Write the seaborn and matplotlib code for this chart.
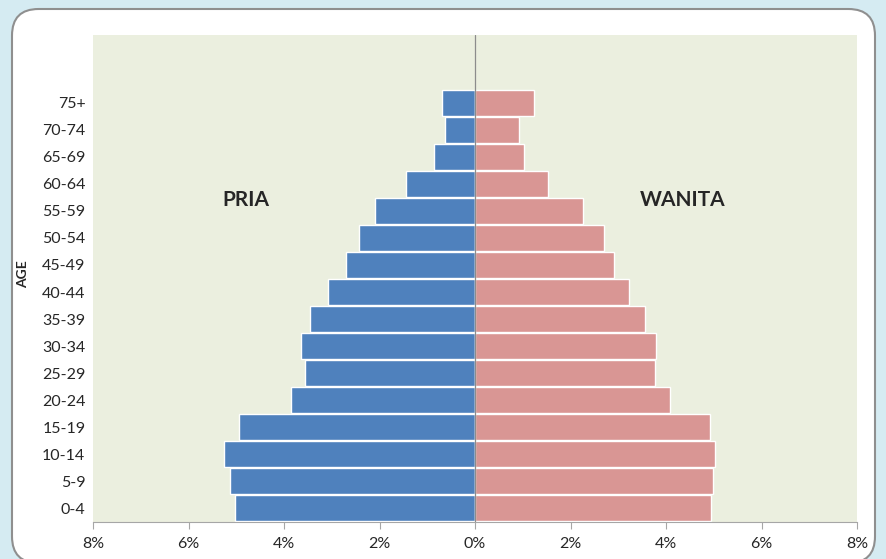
import numpy as np
import pandas as pd
import matplotlib.pyplot as plt
import seaborn as sns
from matplotlib.patches import FancyBboxPatch

# Data (percent of population), oldest group first
umur = ['75+', '70-74', '65-69', '60-64', '55-59', '50-54', '45-49', '40-44',
        '35-39', '30-34', '25-29', '20-24', '15-19', '10-14', '5-9', '0-4']
pria = [0.69, 0.62, 0.86, 1.45, 2.09, 2.43, 2.70, 3.07,
        3.46, 3.64, 3.55, 3.85, 4.94, 5.26, 5.13, 5.03]
wanita = [1.23, 0.92, 1.03, 1.53, 2.27, 2.70, 2.91, 3.23,
          3.56, 3.79, 3.78, 4.08, 4.92, 5.02, 4.98, 4.94]
xticks = [-8, -6, -4, -2, 0, 2, 4, 6, 8]

df = pd.DataFrame({'Age': umur, 'Pria': [-v for v in pria], 'Wanita': wanita})

sns.set_style('white')
plt.rcParams['font.family'] = ['Lato', 'DejaVu Sans']

fig = plt.figure(figsize=(8.86, 5.59), dpi=100, facecolor='#d5ebf2')

# white rounded panel behind the chart
panel = FancyBboxPatch((12 / 886, -4 / 559), 863 / 886, 554 / 559,
                       boxstyle='round,pad=0,rounding_size=0.03',
                       transform=fig.transFigure, facecolor='white',
                       edgecolor='#8f8f8f', linewidth=1.5, zorder=-10,
                       mutation_aspect=886 / 559)
fig.patches.append(panel)

ax = fig.add_axes([93 / 886, 37 / 559, 764 / 886, 487 / 559])
ax.set_zorder(1)
ax.set_facecolor('#ebefdf')

sns.barplot(data=df, x='Pria', y='Age', order=umur, orient='h', color='#4f81bd',
            edgecolor='white', linewidth=1, width=0.96, saturation=1, ax=ax)
sns.barplot(data=df, x='Wanita', y='Age', order=umur, orient='h', color='#d99694',
            edgecolor='white', linewidth=1, width=0.96, saturation=1, ax=ax)

ax.axvline(0, color='#8c8c8c', linewidth=0.9, zorder=5)

ax.set_xlim(-8, 8)
ax.set_ylim(15.5, -2.5)
ax.set_xticks(xticks)
ax.set_xticklabels([f'{abs(t)}%' for t in xticks], fontsize=11.5)
ax.tick_params(axis='x', bottom=True, length=5, color='#a6a6a6', pad=6)
ax.tick_params(axis='y', left=False, labelsize=11.5, pad=2)
for s in ['top', 'right', 'left']:
    ax.spines[s].set_visible(False)
ax.spines['bottom'].set_color('#a6a6a6')

ax.set_xlabel('')
ax.set_ylabel('AGE', fontsize=10, fontweight='bold')
ax.yaxis.set_label_coords(-0.084, 0.51)

ax.text(-4.79, 3.6, 'PRIA', fontsize=15, fontweight='bold', ha='center', va='center')
ax.text(4.35, 3.6, 'WANITA', fontsize=15, fontweight='bold', ha='center', va='center')

plt.savefig('out.png', dpi=100, facecolor=fig.get_facecolor())
